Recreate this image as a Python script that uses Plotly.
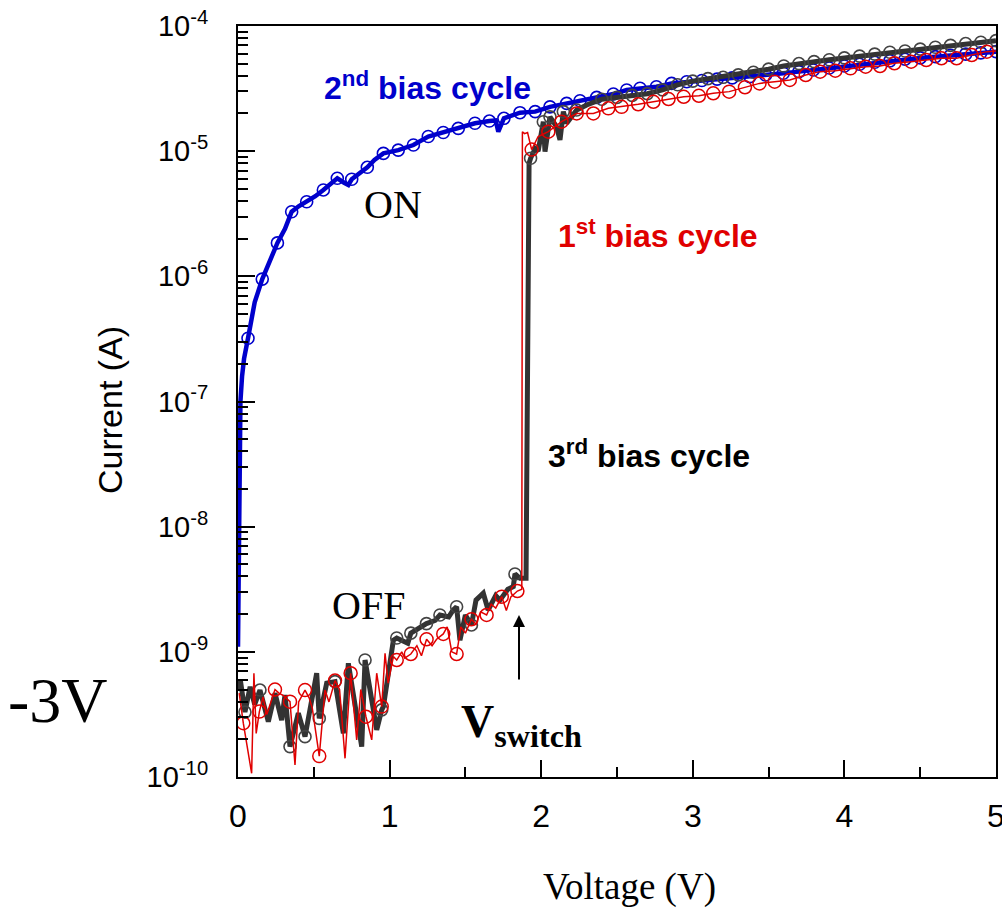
import plotly.graph_objects as go

# ---------------- data ----------------
# 2nd bias cycle (blue, ON state)
blue_V = [0.0, 0.004, 0.008, 0.016, 0.027, 0.04, 0.066, 0.09, 0.11, 0.16, 0.21, 0.26, 0.31, 0.354,
          0.40, 0.453, 0.51, 0.563, 0.61, 0.655, 0.70, 0.728, 0.75, 0.80, 0.853, 0.90, 0.959,
          1.057, 1.157, 1.255, 1.354, 1.453, 1.563, 1.658, 1.70, 1.717, 1.754, 1.86, 1.96,
          2.058, 2.168, 2.256, 2.366, 2.476, 2.564, 2.652, 2.76, 2.86, 2.96, 3.06, 3.16, 3.26,
          3.377, 3.48, 3.597, 3.70, 3.795, 3.90, 4.0, 4.1, 4.2, 4.3, 4.4, 4.5, 4.6, 4.7, 4.8,
          4.9, 5.0]
blue_I = [1.1e-9, 5e-9, 1.5e-8, 1.0e-7, 1.6e-7, 2.2e-7, 3.2e-7, 4.5e-7, 6.2e-7, 9.5e-7, 1.35e-6,
          1.85e-6, 2.4e-6, 3.28e-6, 3.63e-6, 3.94e-6, 4.37e-6, 4.9e-6, 5.5e-6, 6.07e-6, 5.6e-6,
          5.37e-6, 5.96e-6, 6.6e-6, 7.43e-6, 8.5e-6, 9.6e-6, 1.02e-5, 1.12e-5, 1.31e-5, 1.41e-5,
          1.52e-5, 1.67e-5, 1.74e-5, 1.76e-5, 1.43e-5, 1.83e-5, 2.03e-5, 2.07e-5, 2.26e-5,
          2.41e-5, 2.53e-5, 2.69e-5, 2.86e-5, 3.08e-5, 3.18e-5, 3.27e-5, 3.48e-5, 3.59e-5,
          3.67e-5, 3.76e-5, 3.85e-5, 3.94e-5, 4.06e-5, 4.19e-5, 4.32e-5, 4.45e-5, 4.62e-5,
          4.79e-5, 4.95e-5, 5.13e-5, 5.27e-5, 5.43e-5, 5.56e-5, 5.69e-5, 5.82e-5, 5.96e-5,
          6.1e-5, 6.24e-5]
blue_no_marker_V = [0.0, 0.004, 0.008, 0.016, 0.027, 0.04, 0.09, 0.11, 0.21, 0.31, 0.40, 0.51,
                    0.61, 0.70, 0.728, 0.80, 0.90, 1.70, 1.717]

# 1st bias cycle (red)
red_V = [0.008, 0.035, 0.09, 0.105, 0.12, 0.141, 0.165, 0.19, 0.244, 0.27, 0.30, 0.343, 0.376,
         0.40, 0.442, 0.47, 0.49, 0.536, 0.574, 0.60, 0.64, 0.67, 0.706, 0.743, 0.783, 0.81,
         0.844, 0.882, 0.915, 0.948, 0.97, 0.99, 1.025, 1.047, 1.08, 1.10, 1.14, 1.18, 1.21,
         1.244, 1.28, 1.31, 1.354, 1.38, 1.41, 1.442, 1.47, 1.50, 1.54, 1.57, 1.60, 1.64, 1.67,
         1.70, 1.74, 1.77, 1.80, 1.843, 1.872, 1.876, 1.89, 1.91, 1.937, 1.98, 2.047, 2.09,
         2.134, 2.234, 2.344, 2.443, 2.53, 2.64, 2.74, 2.84, 2.94, 3.04, 3.135, 3.24, 3.344,
         3.44, 3.54, 3.64, 3.745, 3.84, 3.94, 4.04, 4.14, 4.235, 4.33, 4.44, 4.54, 4.64, 4.74,
         4.84, 4.94, 5.0]
red_I = [4.68e-10, 2.69e-10, 1.07e-10, 6.75e-10, 2.23e-10, 3.33e-10, 4.37e-10, 3.16e-10, 5.0e-10,
         4.68e-10, 4.47e-10, 4.0e-10, 1.25e-10, 3.98e-10, 4.95e-10, 4.27e-10, 3.55e-10, 1.47e-10,
         4.95e-10, 3.98e-10, 5.89e-10, 5.0e-10, 1.41e-10, 6.75e-10, 1.98e-10, 5.0e-10, 3.03e-10,
         1.98e-10, 6.75e-10, 3.65e-10, 9.75e-10, 5.62e-10, 9.16e-10, 8.6e-10, 1.0e-9, 8.9e-10,
         9.6e-10, 1.12e-9, 9.3e-10, 1.26e-9, 1.12e-9, 1.26e-9, 1.39e-9, 1.58e-9, 1.0e-9, 9.6e-10,
         1.58e-9, 1.41e-9, 1.82e-9, 1.66e-9, 2.09e-9, 1.97e-9, 2.4e-9, 2.24e-9, 2.76e-9, 2.14e-9,
         2.75e-9, 3.06e-9, 3.16e-9, 1.43e-5, 1.38e-5, 1.41e-5, 1.03e-5, 1.31e-5, 1.43e-5, 1.58e-5,
         1.72e-5, 2.0e-5, 2.0e-5, 2.2e-5, 2.26e-5, 2.37e-5, 2.48e-5, 2.61e-5, 2.72e-5, 2.77e-5,
         2.9e-5, 2.99e-5, 3.24e-5, 3.48e-5, 3.59e-5, 3.71e-5, 4.06e-5, 4.32e-5, 4.4e-5, 4.59e-5,
         4.73e-5, 4.79e-5, 5.04e-5, 5.19e-5, 5.35e-5, 5.52e-5, 5.52e-5, 5.86e-5, 6.24e-5, 6.31e-5]
red_marker_V = [0.035, 0.141, 0.244, 0.343, 0.442, 0.536, 0.64, 0.743, 0.844, 0.948, 1.047, 1.14,
                1.244, 1.354, 1.442, 1.54, 1.64, 1.74, 1.843, 1.937, 2.047, 2.134, 2.234, 2.344,
                2.443, 2.53, 2.64, 2.74, 2.84, 2.94, 3.04, 3.135, 3.24, 3.344, 3.44, 3.54, 3.64,
                3.745, 3.84, 3.94, 4.04, 4.14, 4.235, 4.33, 4.44, 4.54, 4.64, 4.74, 4.84, 4.94]

# 3rd bias cycle (black)
black_V = [0.0, 0.015, 0.046, 0.08, 0.11, 0.145, 0.20, 0.244, 0.288, 0.31, 0.343, 0.398, 0.442,
           0.519, 0.536, 0.585, 0.64, 0.695, 0.728, 0.816, 0.838, 0.915, 0.948, 0.959, 1.025,
           1.047, 1.12, 1.14, 1.243, 1.30, 1.332, 1.39, 1.42, 1.442, 1.464, 1.50, 1.54, 1.57,
           1.618, 1.65, 1.70, 1.728, 1.78, 1.816, 1.827, 1.86, 1.90, 1.92, 1.93, 1.96, 1.98,
           2.014, 2.025, 2.058, 2.10, 2.124, 2.146, 2.168, 2.234, 2.30, 2.4, 2.5, 2.6, 2.7, 2.8,
           2.9, 3.0, 3.1, 3.2, 3.3, 3.4, 3.5, 3.6, 3.7, 3.8, 3.9, 4.0, 4.1, 4.2, 4.3, 4.4, 4.5,
           4.6, 4.7, 4.8, 4.9, 5.0]
black_I = [5.0e-10, 6.0e-10, 3.3e-10, 5.25e-10, 3.8e-10, 4.95e-10, 2.77e-10, 4.67e-10, 2.85e-10,
           4.52e-10, 1.75e-10, 3.24e-10, 2.1e-10, 6.75e-10, 2.94e-10, 5.62e-10, 5.78e-10, 2.23e-10,
           8.1e-10, 1.75e-10, 8.6e-10, 2.38e-10, 3.44e-10, 3.65e-10, 1.24e-9, 1.29e-9, 1.17e-9,
           1.41e-9, 1.68e-9, 1.78e-9, 1.97e-9, 1.9e-9, 2.16e-9, 2.29e-9, 1.24e-9, 1.97e-9, 1.64e-9,
           2.59e-9, 2.94e-9, 2.16e-9, 2.82e-9, 2.59e-9, 3.16e-9, 3.32e-9, 4.19e-9, 3.87e-9, 3.87e-9,
           8.0e-6, 8.77e-6, 1.05e-5, 1.0e-5, 1.72e-5, 9.9e-6, 1.88e-5, 1.58e-5, 1.23e-5, 2.07e-5,
           1.67e-5, 2.13e-5, 2.34e-5, 2.6e-5, 2.69e-5, 2.79e-5, 2.88e-5, 3.09e-5, 3.39e-5, 3.63e-5,
           3.8e-5, 3.89e-5, 4.07e-5, 4.27e-5, 4.52e-5, 4.79e-5, 5.01e-5, 5.19e-5, 5.37e-5, 5.56e-5,
           5.75e-5, 5.96e-5, 6.17e-5, 6.31e-5, 6.53e-5, 6.76e-5, 7.0e-5, 7.24e-5, 7.41e-5, 7.64e-5]
black_marker_V = [0.046, 0.145, 0.343, 0.442, 0.536, 0.64, 0.838, 0.948, 1.047, 1.14, 1.243, 1.332,
                  1.442, 1.54, 1.827, 1.93, 2.014, 2.058, 2.146, 2.234, 2.4, 2.5, 2.6, 2.7, 2.8,
                  2.9, 3.0, 3.1, 3.2, 3.3, 3.4, 3.5, 3.6, 3.7, 3.8, 3.9, 4.0, 4.1, 4.2, 4.3, 4.4,
                  4.5, 4.6, 4.7, 4.8, 4.9, 5.0]

x_ticks = [0, 1, 2, 3, 4, 5]
y_exponents = [-10, -9, -8, -7, -6, -5, -4]

# ---------------- styles ----------------
BLUE = "#0000CC"
RED = "#E00000"
DARK = "#333333"
SANS = "Liberation Sans, Arial, sans-serif"
SERIF = "Liberation Serif, Times New Roman, serif"

W, H = 1002, 913
L, R, T, B = 238, 996, 26, 777


def px(xp):
    return (xp - L) / (R - L)


def py(yp):
    return (B - yp) / (B - T)


def pick(vs, is_, keep):
    ks = set(keep)
    xs = [v for v in vs if v in ks]
    ys = [i for v, i in zip(vs, is_) if v in ks]
    return xs, ys


def drop(vs, is_, skip):
    ks = set(skip)
    xs = [v for v in vs if v not in ks]
    ys = [i for v, i in zip(vs, is_) if v not in ks]
    return xs, ys


fig = go.Figure()

# blue
fig.add_trace(go.Scatter(x=blue_V, y=blue_I, mode="lines",
                         line=dict(color=BLUE, width=4.5), showlegend=False))
bx, by = drop(blue_V, blue_I, blue_no_marker_V)
fig.add_trace(go.Scatter(x=bx, y=by, mode="markers",
                         marker=dict(symbol="circle-open", size=12, color=BLUE,
                                     line=dict(width=1.6, color=BLUE)), showlegend=False))
# black
fig.add_trace(go.Scatter(x=black_V, y=black_I, mode="lines",
                         line=dict(color=DARK, width=5), showlegend=False))
kx, ky = pick(black_V, black_I, black_marker_V)
fig.add_trace(go.Scatter(x=kx, y=ky, mode="markers",
                         marker=dict(symbol="circle-open", size=12, color="#444444",
                                     line=dict(width=1.6, color="#444444")), showlegend=False))
# red
fig.add_trace(go.Scatter(x=red_V, y=red_I, mode="lines",
                         line=dict(color=RED, width=1.5), showlegend=False))
rx, ry = pick(red_V, red_I, red_marker_V)
fig.add_trace(go.Scatter(x=rx, y=ry, mode="markers",
                         marker=dict(symbol="circle-open", size=13, color=RED,
                                     line=dict(width=1.5, color=RED)), showlegend=False))

annotations = [
    dict(text="Current (A)", x=px(110), y=py(410), textangle=-90,
         font=dict(family=SANS, size=34, color="black")),
    dict(text="Voltage (V)", x=px(629), y=py(887),
         font=dict(family=SERIF, size=37, color="black")),
    dict(text="-3V", x=px(58), y=py(700),
         font=dict(family=SERIF, size=64, color="black")),
    dict(text="<b>2<sup>nd</sup> bias cycle</b>", x=px(322), y=py(86), xanchor="left",
         font=dict(family=SANS, size=32, color=BLUE)),
    dict(text="<b>1<sup>st</sup> bias cycle</b>", x=px(556), y=py(234), xanchor="left",
         font=dict(family=SANS, size=32, color=RED)),
    dict(text="<b>3<sup>rd</sup> bias cycle</b>", x=px(546), y=py(454), xanchor="left",
         font=dict(family=SANS, size=32, color="black")),
    dict(text="ON", x=px(393), y=py(205),
         font=dict(family=SERIF, size=40, color="black")),
    dict(text="OFF", x=px(368), y=py(605),
         font=dict(family=SERIF, size=40, color="black")),
    dict(text="<b>V<sub>switch</sub></b>", x=px(459), y=py(725), xanchor="left",
         font=dict(family=SERIF, size=46, color="black")),
]
for a in annotations:
    a.update(xref="paper", yref="paper", showarrow=False)
    a.setdefault("xanchor", "center")
    a.setdefault("yanchor", "middle")

# arrow
annotations.append(dict(xref="paper", yref="paper", x=px(519), y=py(615),
                        ax=0, ay=66, showarrow=True, arrowhead=2, arrowsize=1.2,
                        arrowwidth=2, arrowcolor="black", text=""))

fig.update_layout(
    width=W, height=H, autosize=False,
    margin=dict(l=L, r=W - R, t=T, b=H - B, pad=0),
    paper_bgcolor="white", plot_bgcolor="white",
    annotations=annotations,
    xaxis=dict(range=[0, 5], tickvals=x_ticks, ticktext=[str(v) for v in x_ticks],
               ticks="inside", ticklen=17, tickwidth=1.5, tickcolor="black",
               showline=True, linecolor="black", linewidth=2, mirror=True,
               showgrid=False, zeroline=False, ticklabelstandoff=10,
               ticklabeloverflow="allow", automargin=False,
               tickfont=dict(family=SANS, size=32, color="black"),
               minor=dict(dtick=0.5, tick0=0, ticks="inside", ticklen=10, tickwidth=1.5,
                          tickcolor="black", showgrid=False)),
    yaxis=dict(type="log", range=[-10, -4],
               tickvals=[10.0 ** e for e in y_exponents],
               ticktext=["10<sup>%d</sup>" % e for e in y_exponents],
               ticks="inside", ticklen=17, tickwidth=1.5, tickcolor="black",
               showline=True, linecolor="black", linewidth=2, mirror=True,
               showgrid=False, zeroline=False, ticklabelstandoff=22,
               ticklabeloverflow="allow", automargin=False,
               tickfont=dict(family=SANS, size=29, color="black"),
               minor=dict(dtick="D1", ticks="inside", ticklen=10, tickwidth=1.5,
                          tickcolor="black", showgrid=False)),
)

fig.write_html("out.html")
